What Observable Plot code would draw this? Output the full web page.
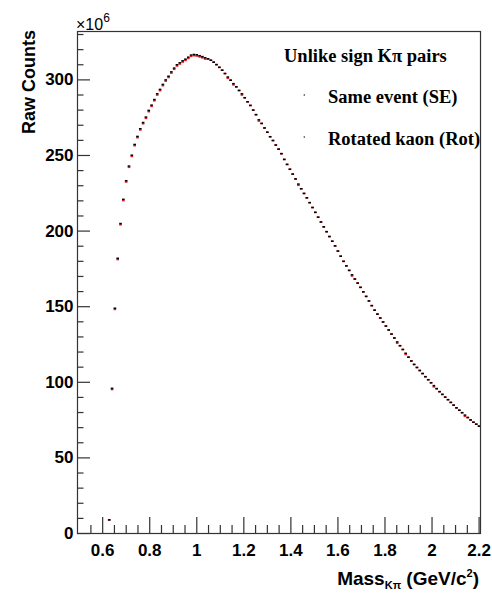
<!DOCTYPE html>
<html><head><meta charset="utf-8">
<script src="https://cdn.jsdelivr.net/npm/d3@7"></script>
<script src="https://cdn.jsdelivr.net/npm/@observablehq/plot@0.6"></script>
<style>body{margin:0;background:#fff}</style>
</head><body><div id="chart"></div>
<script>
// Bin centres (GeV/c^2)
const mass = [0.630,0.642,0.654,0.666,0.678,0.690,0.702,0.714,0.726,0.738,0.750,0.762,0.774,0.786,0.798,0.810,0.822,0.834,0.846,0.858,0.870,0.882,0.894,0.906,0.918,0.930,0.942,0.954,0.966,0.978,0.990,1.002,1.014,1.026,1.038,1.050,1.062,1.074,1.086,1.098,1.110,1.122,1.134,1.146,1.158,1.170,1.182,1.194,1.206,1.218,1.230,1.242,1.254,1.266,1.278,1.290,1.302,1.314,1.326,1.338,1.350,1.362,1.374,1.386,1.398,1.410,1.422,1.434,1.446,1.458,1.470,1.482,1.494,1.506,1.518,1.530,1.542,1.554,1.566,1.578,1.590,1.602,1.614,1.626,1.638,1.650,1.662,1.674,1.686,1.698,1.710,1.722,1.734,1.746,1.758,1.770,1.782,1.794,1.806,1.818,1.830,1.842,1.854,1.866,1.878,1.890,1.902,1.914,1.926,1.938,1.950,1.962,1.974,1.986,1.998,2.010,2.022,2.034,2.046,2.058,2.070,2.082,2.094,2.106,2.118,2.130,2.142,2.154,2.166,2.178,2.190,2.202];
// Same event counts (x10^6)
const sameEvent = [9,96,149,182,205,221,233.3,243,250.2,257.3,
262.6,267.7,271.8,275.4,279.8,283.3,287,290.8,293.7,297,
300,302.4,305.3,307.8,310,311.3,312.6,313.7,315,316.4,
316.8,316.6,316.0,315.4,314.6,313.9,313.0,311.7,310.1,308.3,
306.4,304.2,301.9,299.8,297.5,295.4,293.0,290.8,288.2,285.5,
283.1,280.0,277.0,273.6,271.2,268.2,265.4,262.4,259.9,256.9,
254.2,251.2,247.4,244.1,240.9,237.7,234.5,231.1,228.0,224.9,
222.0,218.8,215.6,212.4,209.2,206.0,202.8,199.6,196.4,193.3,
190.2,186.8,183.4,180.0,177.0,174.0,171.1,168.3,165.6,162.8,
159.8,156.8,153.8,150.7,147.7,145.1,142.5,139.9,137.2,134.6,
131.9,129.3,126.7,124.2,121.7,119.2,116.6,114.1,111.8,109.8,
107.8,105.8,103.7,101.7,99.7,97.8,95.8,93.8,92.0,90.2,
88.5,86.7,84.9,83.1,81.5,79.9,78.3,76.7,75.1,73.6,
72.3,71.0];
// Rotated kaon counts (x10^6)
const rotated = [9,95.2,148.2,181.2,204.2,220.2,232.5,242.2,249.4,256.5,
261.8,266.9,271.0,274.6,279.0,282.5,286.2,290.0,292.9,296.2,
299.2,301.6,304.5,307.0,309.2,310.5,311.8,312.9,314.2,315.6,
316.0,315.8,315.2,314.6,313.8,313.9,313.0,311.7,310.1,308.3,
306.4,304.2,301.1,299.8,296.7,295.4,293.0,290.0,288.2,285.5,
283.1,280.0,277.0,272.8,271.2,268.2,265.4,262.4,259.9,256.9,
254.2,251.2,247.4,244.1,240.9,237.7,234.5,230.3,228.0,224.9,
222.0,218.8,215.6,212.4,209.2,206.0,202.8,199.6,196.4,193.3,
190.2,186.8,183.4,180.0,177.0,174.0,170.3,168.3,165.6,162.8,
159.8,156.8,153.8,150.7,147.7,145.1,142.5,139.9,137.2,134.6,
131.9,129.3,125.9,124.2,121.7,118.4,116.6,114.1,111.8,109.8,
107.8,105.8,103.7,101.7,99.7,97.0,95.8,93.8,92.0,90.2,
88.5,86.7,84.9,83.1,81.5,79.9,77.5,76.7,75.1,73.6,
72.3,71.0];
const xMajor = [0.6,0.8,1.0,1.2,1.4,1.6,1.8,2.0,2.2];
const xMinor = [0.55,0.65,0.7,0.75,0.85,0.9,0.95,1.05,1.1,1.15,1.25,1.3,1.35,1.45,1.5,1.55,1.65,1.7,1.75,1.85,1.9,1.95,2.05,2.1,2.15];
const yMajor = [0,50,100,150,200,250,300];
const yMinor = [10,20,30,40,60,70,80,90,110,120,130,140,160,170,180,190,210,220,230,240,260,270,280,290,310,320,330];

const se = mass.map((x, i) => ({x, v: sameEvent[i]}));
const rot = mass.map((x, i) => ({x, v: rotated[i]}));
const half = 0.0056;
const fmt = d => String(+d.toFixed(1));

const chart = Plot.plot({
  width: 492, height: 593,
  marginLeft: 77, marginRight: 12, marginTop: 31, marginBottom: 60,
  x: {domain: [0.493, 2.206]},
  y: {domain: [0, 332]},
  style: {fontFamily: "'Liberation Sans', Arial, sans-serif", background: "white", color: "black"},
  marks: [
    Plot.ruleY(rot, {y: "v", x1: d => d.x - half, x2: d => d.x + half, stroke: "#e8141c", strokeWidth: 1.6, clip: true}),
    Plot.ruleY(se, {y: "v", x1: d => d.x - half, x2: d => d.x + half, stroke: "black", strokeWidth: 1.5, clip: true}),
    Plot.frame({stroke: "#333", strokeWidth: 1.2}),
    Plot.axisX(xMinor, {tickSize: -8, tickFormat: () => "", label: null, stroke: "#333", strokeWidth: 1.2}),
    Plot.axisX(xMajor, {tickSize: -16, tickFormat: () => "", label: null, stroke: "#333", strokeWidth: 1.2}),
    Plot.axisX(xMajor, {tickSize: 0, tickPadding: 10, tickFormat: fmt, label: null, fontSize: 17, fontWeight: "bold"}),
    Plot.axisY(yMinor, {tickSize: -6.5, tickFormat: () => "", label: null, stroke: "#333", strokeWidth: 1.2}),
    Plot.axisY(yMajor, {tickSize: -13, tickFormat: () => "", label: null, stroke: "#333", strokeWidth: 1.2}),
    Plot.axisY(yMajor, {tickSize: 0, tickPadding: 4, label: null, fontSize: 17, fontWeight: "bold"})
  ]
});
document.getElementById("chart").appendChild(chart);

const svg = d3.select(chart);
const sans = "'Liberation Sans', Arial, sans-serif";
const serif = "'Liberation Serif', 'Times New Roman', serif";

// exponent
const ex = svg.append("text").attr("x", 76).attr("y", 29.5).attr("text-anchor", "start")
  .attr("font-family", sans).attr("font-size", 16).attr("fill", "black");
ex.append("tspan").text("×10");
ex.append("tspan").attr("dy", -8).attr("font-size", 12).text("6");

// y title
svg.append("text").attr("transform", "translate(35,30) rotate(-90)")
  .attr("text-anchor", "end").attr("font-family", sans).attr("font-size", 18)
  .attr("font-weight", "bold").attr("fill", "black").text("Raw Counts");

// x title
const xt = svg.append("text").attr("x", 479).attr("y", 585).attr("text-anchor", "end")
  .attr("font-family", sans).attr("font-size", 19).attr("font-weight", "bold").attr("fill", "black");
xt.append("tspan").text("Mass");
xt.append("tspan").attr("dy", 4).attr("font-size", 11).text("Kπ");
xt.append("tspan").attr("dy", -4).text(" (GeV/c");
xt.append("tspan").attr("dy", -8).attr("font-size", 11).text("2");
xt.append("tspan").attr("dy", 8).text(")");

// legend
const leg = (x, y, s) => svg.append("text").attr("x", x).attr("y", y).attr("text-anchor", "start")
  .attr("font-family", serif).attr("font-size", 18.5).attr("font-weight", "bold").attr("fill", "black").text(s);
leg(284, 62, "Unlike sign Kπ pairs");
leg(328, 103, "Same event (SE)");
leg(328, 145, "Rotated kaon (Rot)");
svg.append("circle").attr("cx", 304.3).attr("cy", 95).attr("r", 0.8).attr("fill", "#222");
svg.append("circle").attr("cx", 304.3).attr("cy", 137).attr("r", 0.8).attr("fill", "#222");
</script>
</body></html>
